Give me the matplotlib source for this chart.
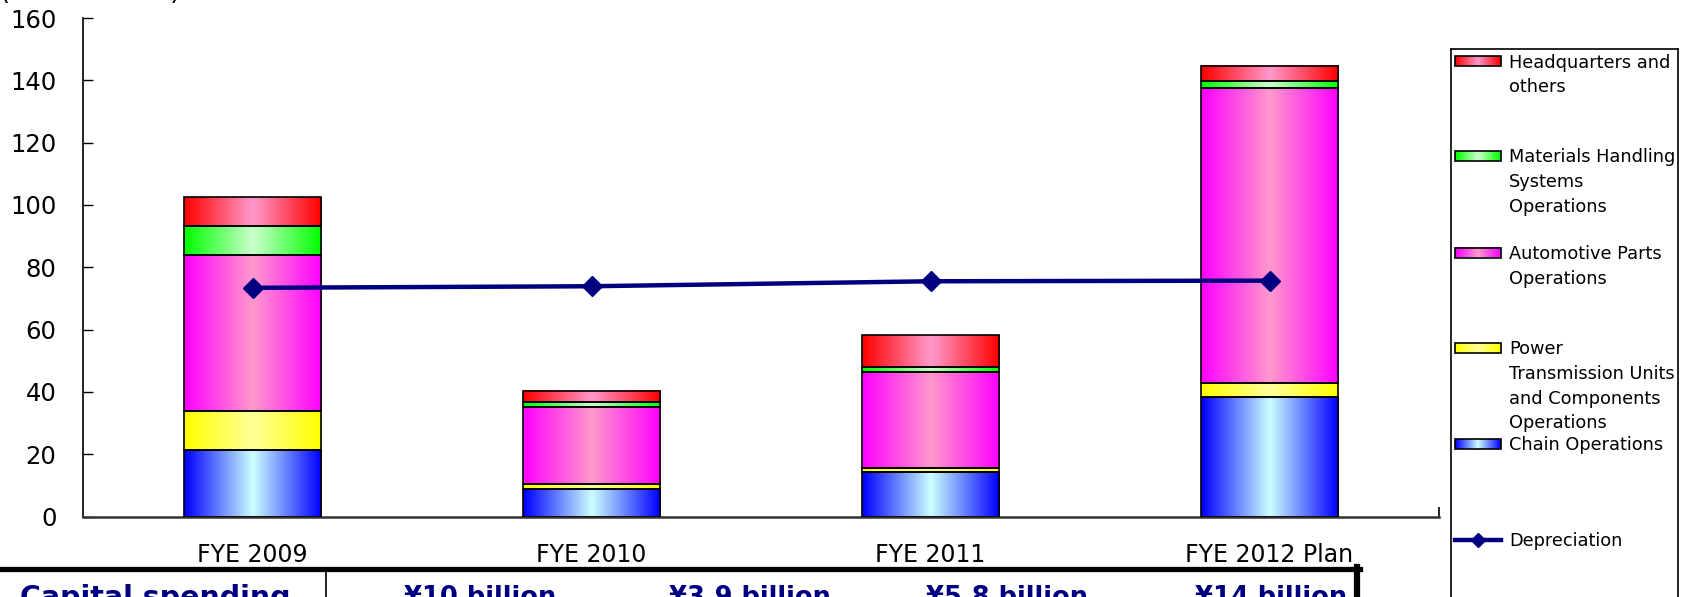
import numpy as np
import matplotlib.pyplot as plt
from matplotlib.colors import to_rgb
from matplotlib.patches import Rectangle
from matplotlib.lines import Line2D

years = ['FYE 2009', 'FYE 2010', 'FYE 2011', 'FYE 2012 Plan']
chain = [21.4, 8.8, 14.2, 38.3]
power = [12.6, 1.5, 1.3, 4.5]
auto = [49.8, 24.7, 31.0, 94.7]
mhs = [9.4, 1.6, 1.5, 2.2]
hq = [9.3, 3.6, 10.1, 5.0]
depreciation = [73.4, 73.9, 75.5, 75.7]
capex = ['¥10 billion', '¥3.9 billion', '¥5.8 billion', '¥14 billion']

# stacked from the bottom up: (values, edge colour, centre colour)
segments = [
    (chain, '#0000ff', '#ccffff'),
    (power, '#ffff00', '#ffff99'),
    (auto, '#ff00ff', '#ff99cc'),
    (mhs, '#00ff00', '#ccffcc'),
    (hq, '#ff0000', '#ff99cc'),
]

W, H = 1685, 597
NAVY = '#000080'


def gradient(edge, center, n=80):
    t = np.abs(np.linspace(-1, 1, n))[:, None]
    e = np.array(to_rgb(edge))[None, :]
    c = np.array(to_rgb(center))[None, :]
    return (c * (1 - t) + e * t)[None, :, :]


fig = plt.figure(figsize=(W / 100, H / 100), dpi=100)
ax = fig.add_axes([83 / W, (H - 516.5) / H, (1439 - 83) / W, (516.5 - 18) / H])

x = np.arange(len(years))
bottom = np.zeros(len(years))
for vals, edge, center in segments:
    vals = np.array(vals)
    bars = ax.bar(x, vals, width=0.405, bottom=bottom, color='none',
                  edgecolor='black', linewidth=1.2, zorder=3)
    for rect in bars:
        x0, y0 = rect.get_x(), rect.get_y()
        ax.imshow(gradient(edge, center), aspect='auto', interpolation='bilinear',
                  extent=[x0, x0 + rect.get_width(), y0, y0 + rect.get_height()],
                  zorder=2)
    bottom += vals

ax.plot(x, depreciation, color=NAVY, lw=3.2, marker='D', ms=10, zorder=4)

ax.set_xlim(-0.5, 3.5)
ax.set_ylim(0, 160)
ax.set_yticks(np.arange(0, 161, 20))
ax.tick_params(axis='y', direction='in', length=7, width=1, labelsize=17.5, pad=19)
ax.set_xticks(x)
ax.set_xticklabels(years)
ax.tick_params(axis='x', which='major', length=0, labelsize=17, pad=19)
ax.set_xticks([3.5], minor=True)
ax.tick_params(axis='x', which='minor', direction='in', length=7, width=1.2)
for s in ['top', 'right']:
    ax.spines[s].set_visible(False)
ax.spines['left'].set_linewidth(1.2)
ax.spines['bottom'].set_color('#333333')
ax.spines['bottom'].set_linewidth(1.8)

# unit label, mostly above the top edge
fig.text(0, 1 + 1 / H, '(¥100 million)', fontsize=18.5, va='baseline', ha='left')

# legend panel drawn in pixel coordinates
lax = fig.add_axes([1451 / W, (H - 640) / H, (1678 - 1451) / W, (640 - 49) / H])
lax.set_xticks([])
lax.set_yticks([])
for s in lax.spines.values():
    s.set_linewidth(1.2)

entries = [
    (['Headquarters and', 'others'], '#ff0000', '#ff99cc', 61),
    (['Materials Handling', 'Systems', 'Operations'], '#00ff00', '#ccffcc', 156),
    (['Automotive Parts', 'Operations'], '#ff00ff', '#ff99cc', 252.5),
    (['Power', 'Transmission Units', 'and Components', 'Operations'],
     '#ffff00', '#ffff99', 348),
    (['Chain Operations'], '#0000ff', '#ccffff', 444),
]
for lines, edge, center, cy in entries:
    lax.imshow(gradient(edge, center), aspect='auto', interpolation='bilinear',
               extent=[1455, 1501, cy + 5, cy - 5], zorder=2)
    lax.add_patch(Rectangle((1455, cy - 5), 46, 10, fill=False,
                            edgecolor='black', lw=1.2, zorder=3))
    for i, line in enumerate(lines):
        lax.text(1509, cy + 6.5 + i * 24.5, line, fontsize=12.8,
                 va='baseline', ha='left')

lax.plot([1455, 1501], [540, 540], color=NAVY, lw=3.2, zorder=3)
lax.plot([1478], [540], color=NAVY, marker='D', ms=7, zorder=4)
lax.text(1509, 546.5, 'Depreciation', fontsize=12.8, va='baseline', ha='left')
lax.set_xlim(1451, 1678)
lax.set_ylim(640, 49)

# capital spending table below the chart
fy = lambda py: (H - py) / H
fig.add_artist(Line2D([0, 1360 / W], [fy(569), fy(569)], transform=fig.transFigure,
                      color='black', lw=3.8))
fig.add_artist(Line2D([1357 / W, 1357 / W], [fy(567), fy(H + 5)], transform=fig.transFigure,
                      color='black', lw=4.5))
fig.add_artist(Line2D([326 / W, 326 / W], [fy(571), fy(H + 5)], transform=fig.transFigure,
                      color='black', lw=1.2))
fig.text(290 / W, fy(606), 'Capital spending', fontsize=20.5, fontweight='bold',
         color=NAVY, ha='right', va='baseline')
for cx, label in zip([480, 750, 1007, 1271], capex):
    fig.text(cx / W, fy(605), label, fontsize=18.5, fontweight='bold',
             color=NAVY, ha='center', va='baseline')

fig.savefig('out.png', dpi=100)
